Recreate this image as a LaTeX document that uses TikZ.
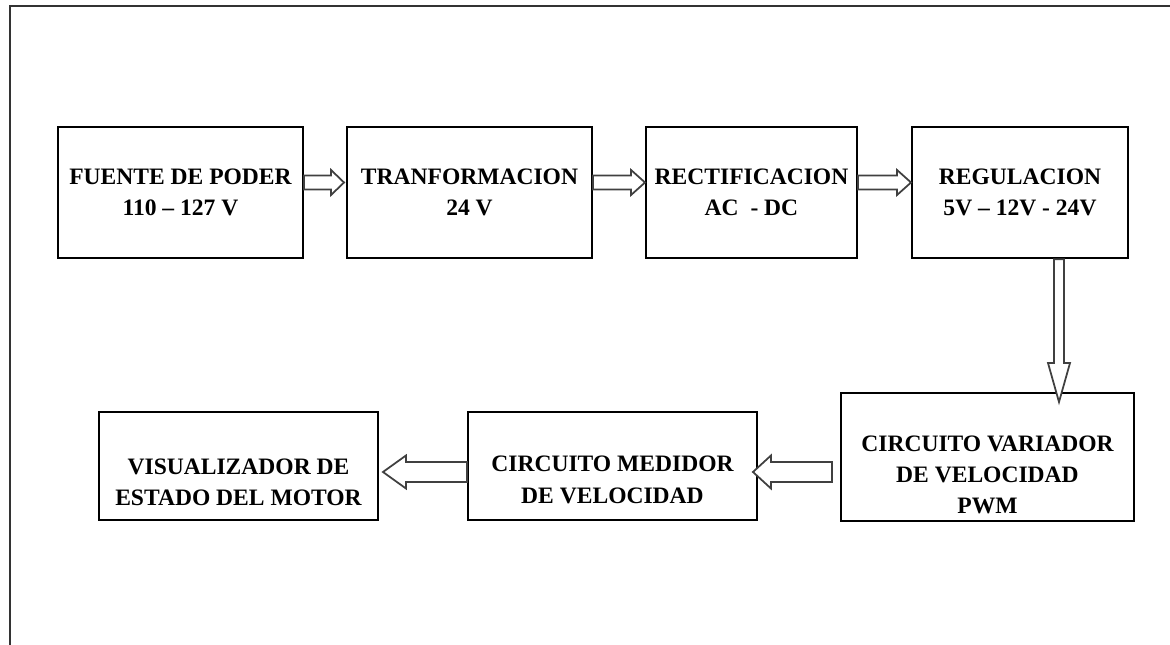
\documentclass[tikz,border=0pt]{standalone}
\usepackage{fontspec}
\setmainfont{Liberation Serif}
\usetikzlibrary{calc}

\tikzset{
  blk/.style={draw=black, line width=1.1pt, rectangle, inner sep=0pt},
  txt/.style={font=\bfseries\fontsize{13.4}{17.8}\selectfont, align=center},
  arrowline/.style={draw=black!75, line width=1pt, fill=white},
}

% hollow block arrow: #1 shaft half width, #2 head half width, #3 head length, #4 from, #5 to
\newcommand{\blockarrow}[5]{%
  \coordinate (hb) at ($(#5)!#3!(#4)$);
  \draw[arrowline] ($(#4)!#1!90:(#5)$) -- ($(hb)!#1!90:(#5)$) -- ($(hb)!#2!90:(#5)$) -- (#5)
    -- ($(hb)!#2!-90:(#5)$) -- ($(hb)!#1!-90:(#5)$) -- ($(#4)!#1!-90:(#5)$) -- cycle;
}

\begin{document}
\begin{tikzpicture}

    \useasboundingbox (0,0) rectangle (23.4,12.9);

    % Frame
    \draw[line width=1.6pt, black!80] (23.4,12.78) -- (0.2,12.78) -- (0.2,0);

    % =====================================================
    % TOP ROW: SUPPLY CHAIN
    % =====================================================
    \node[blk, txt, minimum width=4.9cm, minimum height=2.63cm] (fuente) at (3.61,9.05) {FUENTE DE PODER\\110 -- 127 V};
    \node[blk, txt, minimum width=4.9cm, minimum height=2.63cm] (transf) at (9.39,9.05) {TRANFORMACION\\24 V};
    \node[blk, txt, minimum width=4.22cm, minimum height=2.63cm] (rectif) at (15.03,9.05) {RECTIFICACION\\AC\ \ - DC};
    \node[blk, txt, minimum width=4.32cm, minimum height=2.63cm] (regul) at (20.40,9.05) {REGULACION\\5V -- 12V - 24V};

    % =====================================================
    % BOTTOM ROW: MOTOR CONTROL
    % =====================================================
    \node[blk, minimum width=5.86cm, minimum height=2.56cm] (variador) at (19.75,3.76) {};
    \node[txt] (variadortxt) at ([yshift=-0.36cm]variador.center) {CIRCUITO VARIADOR\\DE VELOCIDAD\\PWM};

    \node[blk, minimum width=5.78cm, minimum height=2.16cm] (medidor) at (12.25,3.58) {};
    \node[txt] (medidortxt) at ([yshift=-0.28cm]medidor.center) {CIRCUITO MEDIDOR\\DE VELOCIDAD};

    \node[blk, minimum width=5.58cm, minimum height=2.16cm] (visual) at (4.77,3.58) {};
    \node[txt] (visualtxt) at ([yshift=-0.32cm]visual.center) {VISUALIZADOR DE\\ESTADO DEL MOTOR};

    % Arrow ends
    \coordinate (a1s) at ([yshift=0.2cm]fuente.east);
    \coordinate (a1e) at ([xshift=-0.04cm, yshift=0.2cm]transf.west);
    \coordinate (a2s) at ([yshift=0.2cm]transf.east);
    \coordinate (a2e) at ([yshift=0.2cm]rectif.west);
    \coordinate (a3s) at ([yshift=0.2cm]rectif.east);
    \coordinate (a3e) at ([yshift=0.2cm]regul.west);
    \coordinate (a4s) at ([xshift=0.78cm]regul.south);
    \coordinate (a4e) at ([xshift=1.43cm, yshift=-0.2cm]variador.north);
    \coordinate (a5s) at ([xshift=-0.16cm, yshift=-0.3cm]variador.west);
    \coordinate (a5e) at ([xshift=-0.1cm, yshift=-0.12cm]medidor.east);
    \coordinate (a6s) at ([yshift=-0.12cm]medidor.west);
    \coordinate (a6e) at ([xshift=0.08cm, yshift=-0.12cm]visual.east);

    % Arrows
    \blockarrow{0.14cm}{0.25cm}{0.26cm}{a1s}{a1e}
    \blockarrow{0.14cm}{0.25cm}{0.28cm}{a2s}{a2e}
    \blockarrow{0.14cm}{0.25cm}{0.28cm}{a3s}{a3e}
    \blockarrow{0.1cm}{0.22cm}{0.78cm}{a4s}{a4e}
    \blockarrow{0.2cm}{0.33cm}{0.36cm}{a5s}{a5e}
    \blockarrow{0.2cm}{0.33cm}{0.46cm}{a6s}{a6e}

\end{tikzpicture}
\end{document}
